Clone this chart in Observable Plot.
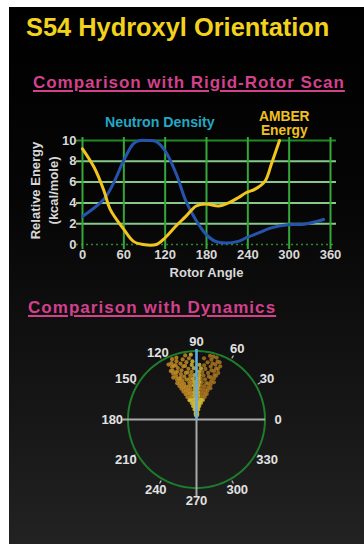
<!DOCTYPE html>
<html>
<head>
<meta charset="utf-8">
<script src="https://cdn.jsdelivr.net/npm/d3@7"></script>
<script src="https://cdn.jsdelivr.net/npm/@observablehq/plot@0.6"></script>
<style>
  html, body { margin: 0; padding: 0; background: #fff; width: 364px; height: 544px; overflow: hidden; }
  #panel { position: absolute; left: 9px; top: 7px; width: 355px; height: 537px;
           background: linear-gradient(#000 0%, #050505 35%, #161616 75%, #222 100%); }
  .t { position: absolute; font-family: "Liberation Sans", Arial, sans-serif; font-weight: bold; white-space: nowrap; line-height: 1; }
  #title { left: 26px; top: 15px; font-size: 25.4px; color: #f2d21c; }
  .sub { color: #d3408c; text-decoration: underline; text-decoration-thickness: 1.5px; text-underline-offset: 2px; }
  #sub1 { left: 33px; top: 74px; font-size: 17px; letter-spacing: 0.95px; }
  #sub2 { left: 28px; top: 299px; font-size: 17px; letter-spacing: 1.05px; }
  #neutron { left: 105px; top: 115px; font-size: 14.2px; color: #22a8c4; }
  #amber { left: 259px; top: 110px; font-size: 13.8px; color: #f0c020; text-align: center; line-height: 1.0; }
  .chart { position: absolute; }
  #c1 { left: 20px; top: 110px; }
  #c2 { left: 95.5px; top: 319px; }
</style>
</head>
<body>
<div id="panel"></div>
<div class="t" id="title">S54 Hydroxyl Orientation</div>
<div class="t sub" id="sub1">Comparison with Rigid-Rotor Scan</div>
<div class="t" id="neutron">Neutron Density</div>
<div class="t" id="amber">AMBER<br>Energy</div>
<div class="t sub" id="sub2">Comparison with Dynamics</div>
<div class="chart" id="c1"></div>
<div class="chart" id="c2"></div>
<script>
// ---- Rigid-rotor scan data ----
const xTicks = [0, 60, 120, 180, 240, 300, 360];
const yTicks = [0, 2, 4, 6, 8, 10];
const neutronAngle = [0, 31, 45, 60, 74, 83, 95, 107, 120, 136, 150, 165, 179, 193, 207, 226, 238, 255, 274, 298, 322, 350];
const neutronValue = [2.7, 4.35, 5.9, 8.1, 9.7, 10, 10, 9.9, 9, 6.8, 4.2, 2.3, 1, 0.3, 0.15, 0.3, 0.65, 1.1, 1.6, 1.9, 1.95, 2.4];
const energyAngle = [0, 17, 31, 40, 60, 74, 88, 107, 120, 136, 150, 165, 179, 198, 212, 226, 238, 250, 265, 274, 286];
const energyValue = [9.2, 7.4, 5.2, 3.4, 1.45, 0.3, 0, 0, 0.65, 1.8, 2.7, 3.7, 3.9, 3.7, 4, 4.5, 5, 5.3, 6.1, 7.7, 10];

// ---- Dynamics (polar) data ----
const polarTicks = [0, 30, 60, 90, 120, 150, 180, 210, 240, 270, 300, 330];
const neutronPeak = 90;
const dynR = [
  0.06,0.06,0.08,0.08,
  0.1,0.1,0.1,0.1,
  0.15,0.15,0.15,0.15,0.15,
  0.2,0.2,0.2,0.2,0.2,0.2,
  0.25,0.25,0.25,0.25,0.25,0.25,0.25,
  0.3,0.3,0.3,0.3,0.3,0.3,0.3,0.3,
  0.35,0.35,0.35,0.35,0.35,0.35,0.35,0.35,
  0.4,0.4,0.4,0.4,0.4,0.4,0.4,0.4,0.4,0.4,
  0.45,0.45,0.45,0.45,0.45,0.45,0.45,0.45,0.45,0.45,
  0.5,0.5,0.5,0.5,0.5,0.5,0.5,0.5,0.5,0.5,0.5,
  0.55,0.55,0.55,0.55,0.55,0.55,0.55,0.55,0.55,0.55,0.55,
  0.6,0.6,0.6,0.6,0.6,0.6,0.6,0.6,0.6,0.6,0.6,
  0.65,0.65,0.65,0.65,0.65,0.65,0.65,0.65,0.65,0.65,0.65,
  0.7,0.7,0.7,0.7,0.7,0.7,0.7,0.7,0.7,0.7,0.7,
  0.75,0.75,0.75,0.75,0.75,0.75,0.75,0.75,0.75,0.75,0.75,
  0.8,0.8,0.8,0.8,0.8,0.8,0.8,0.8,0.8,0.8,0.8,
  0.85,0.85,0.85,0.85,0.85,0.85,0.85,0.85,0.85,0.85,
  0.9,0.9,0.9,0.9,0.9,0.9,0.9,0.9,0.9,
  0.95,0.95,0.95,0.95,0.95,0.95,0.95
];
const dynAngle = [
  84,96,81,99,
  86,93,89,96,
  84,97,92,80,101,
  82,99,86,104,78,94,
  80,100,106,84,95,75,88,
  77,103,108,83,97,72,110,92,
  74,101,112,80,105,70,86,95,
  76,99,113,71,108,82,104,68,87,94,
  73,110,115,79,101,69,106,84,93,88,
  70,112,116,77,103,66,108,83,99,87,94,
  72,109,117,75,101,68,113,82,97,93,86,
  69,114,118,78,104,65,110,84,100,87,95,
  71,111,116,74,106,67,113,81,98,93,86,
  68,115,119,76,103,66,109,83,101,87,96,
  70,112,117,73,107,65,114,80,99,93,85,
  67,116,118,75,104,69,110,82,102,87,95,
  71,113,115,74,106,66,111,79,100,94,
  68,117,114,76,103,70,109,83,97,
  72,112,108,78,100,75,95
];

const font = '"Liberation Sans", Arial, sans-serif';
const labelColor = "#d8d8d8";

// ---- Chart 1 ----
const neutron = neutronAngle.map((a, i) => ({angle: a, value: neutronValue[i]}));
const energy = energyAngle.map((a, i) => ({angle: a, value: energyValue[i]}));

const c1 = Plot.plot({
  width: 330, height: 175,
  marginLeft: 62, marginRight: 20, marginTop: 30, marginBottom: 41,
  style: {background: "transparent", color: labelColor, fontFamily: font, fontSize: "13px", fontWeight: "bold", overflow: "visible"},
  x: {domain: [0, 360], ticks: xTicks, label: null},
  y: {domain: [0, 10], ticks: yTicks, label: null},
  marks: [
    Plot.ruleY(yTicks.filter(d => d > 0), {y: d => d, stroke: d => d === 10 ? "#1f8a25" : "#86c98a", strokeWidth: 2, insetLeft: -6, insetRight: -6}),
    Plot.ruleY([0], {stroke: "#2a8a2a", strokeWidth: 1.5, strokeDasharray: "2,3", insetLeft: -6, insetRight: -6}),
    Plot.ruleX(xTicks, {stroke: "#34a838", strokeWidth: 2, insetBottom: -5, insetTop: -3}),
    Plot.line(neutron, {x: "angle", y: "value", stroke: "#2554ad", strokeWidth: 3, curve: "catmull-rom"}),
    Plot.line(energy, {x: "angle", y: "value", stroke: "#f1c41e", strokeWidth: 3, curve: "catmull-rom"}),
    Plot.axisX(xTicks, {tickSize: 0, tickPadding: 5, fill: labelColor, fontSize: 13}),
    Plot.axisY(yTicks, {tickSize: 0, tickPadding: 6, fill: labelColor, fontSize: 13}),
    Plot.text(["Rotor Angle"], {frameAnchor: "bottom", dy: 28, fill: labelColor, fontSize: 13, lineAnchor: "middle"}),
    Plot.text(["Relative Energy"], {frameAnchor: "left", dx: -47, dy: -2, rotate: -90, textAnchor: "middle", lineAnchor: "middle", fill: labelColor, fontSize: 13}),
    Plot.text(["(kcal/mole)"], {frameAnchor: "left", dx: -29, dy: -2, rotate: -90, textAnchor: "middle", lineAnchor: "middle", fill: labelColor, fontSize: 13})
  ]
});
document.getElementById("c1").appendChild(c1);

// ---- Chart 2 (polar) ----
const S = 100 / 68.5;
const rad = d => d * Math.PI / 180;
const px = (a, r) => r * Math.cos(rad(a));
const py = (a, r) => r * Math.sin(rad(a));
const circle = d3.range(0, 361, 2);
const dyn = dynAngle.map((a, i) => ({angle: a, r: dynR[i]}));
const labelR = a => (a === 90 || a === 120) ? 1.13 : (a === 180 ? 1.23 : 1.19);

const c2 = Plot.plot({
  width: 200, height: 200, margin: 0,
  style: {background: "transparent", color: "#e0e0e0", fontFamily: font, fontSize: "13px", fontWeight: "bold", overflow: "visible"},
  x: {domain: [-S, S], axis: null},
  y: {domain: [-S, S], axis: null},
  marks: [
    Plot.line(circle, {x: a => px(a, 1), y: a => py(a, 1), stroke: "#1d7d2a", strokeWidth: 2}),
    Plot.link([0], {x1: -1.08, y1: 0, x2: 1.0, y2: 0, stroke: "#a9a9a9", strokeWidth: 2}),
    Plot.link([270], {x1: 0, y1: 0, x2: a => px(a, 1.12), y2: a => py(a, 1.12), stroke: "#a9a9a9", strokeWidth: 2}),
    Plot.link(polarTicks.filter(a => a % 90 !== 0), {x1: a => px(a, 1.03), y1: a => py(a, 1.03), x2: a => px(a, 1.08), y2: a => py(a, 1.08), stroke: "#bbbbbb", strokeWidth: 1.2}),
    Plot.dot(dyn, {x: d => px(d.angle, d.r), y: d => py(d.angle, d.r), r: 2.1, fill: d => d.r < 0.35 || Math.abs(d.angle - 90) < 6 ? "#d2b834" : (d.angle > 90 ? "#c08a24" : "#a87420"), fillOpacity: 0.85}),
    Plot.link([neutronPeak], {x1: 0, y1: 0, x2: a => px(a, 1.03), y2: a => py(a, 1.03), stroke: "#62aee8", strokeWidth: 2.6}),
    Plot.text(polarTicks, {x: a => px(a, labelR(a)), y: a => py(a, labelR(a)), text: d => String(d), fill: "#e2e2e2", fontSize: 13, textAnchor: "middle", lineAnchor: "middle"})
  ]
});
document.getElementById("c2").appendChild(c2);
</script>
</body>
</html>
